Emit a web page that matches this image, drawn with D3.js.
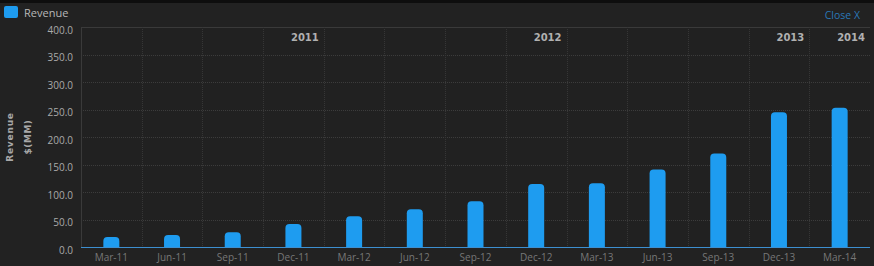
<!DOCTYPE html>
<html><head><meta charset="utf-8">
<script src="https://cdn.jsdelivr.net/npm/d3@7"></script>
<style>
html,body{margin:0;padding:0;background:#222222;}
svg{display:block;}
</style></head>
<body>
<script>
const categories = ["Mar-11","Jun-11","Sep-11","Dec-11","Mar-12","Jun-12","Sep-12","Dec-12","Mar-13","Jun-13","Sep-13","Dec-13","Mar-14"];
const revenue = [18, 22, 27, 42, 56, 68.5, 83, 114.5, 116, 141, 170, 245, 253];
const yearLabels = ["2011","2012","2013","2014"];
const yearEndCategory = ["Dec-11","Dec-12","Dec-13","Mar-14"];
const yTicks = [0,50,100,150,200,250,300,350,400];

const W = 874, H = 266;
const m = {left: 81, right: 4, top: 27, bottom: 19};
const svg = d3.select("body").append("svg").attr("width", W).attr("height", H);

svg.append("rect").attr("width", W).attr("height", H).attr("fill", "#222222");
svg.append("rect").attr("width", W).attr("height", 3).attr("fill", "#0e0e0e");

const x = d3.scaleBand().domain(categories).range([m.left, W - m.right]).padding(0);
const y = d3.scaleLinear().domain([0, 400]).range([H - m.bottom, m.top]);

// plot area
svg.append("rect").attr("x", m.left).attr("y", m.top).attr("width", W - m.right - m.left)
  .attr("height", H - m.bottom - m.top).attr("fill", "#212121");
svg.append("line").attr("x1", m.left).attr("x2", W - m.right).attr("y1", m.top + 0.5).attr("y2", m.top + 0.5)
  .attr("stroke", "#3a3a3a");

// horizontal grid
svg.append("g").selectAll("line").data(yTicks.filter(d => d > 0 && d < 400)).join("line")
  .attr("x1", m.left).attr("x2", W - m.right)
  .attr("y1", d => Math.round(y(d)) + 0.5).attr("y2", d => Math.round(y(d)) + 0.5)
  .attr("stroke", "#3c3c3c").attr("stroke-dasharray", "1,1");

// vertical grid
svg.append("g").selectAll("line").data(categories.slice(1)).join("line")
  .attr("x1", d => Math.round(x(d)) + 0.5).attr("x2", d => Math.round(x(d)) + 0.5)
  .attr("y1", m.top).attr("y2", H - m.bottom)
  .attr("stroke", "#363636").attr("stroke-dasharray", "1,1");

// left axis line
svg.append("line").attr("x1", m.left + 0.5).attr("x2", m.left + 0.5).attr("y1", m.top).attr("y2", H - m.bottom)
  .attr("stroke", "#3a3a3a");

// y axis labels
const yAxis = d3.axisLeft(y).tickValues(yTicks).tickFormat(d3.format(".1f")).tickSize(0).tickPadding(8);
const ga = svg.append("g").attr("transform", `translate(${m.left},3)`).call(yAxis);
ga.select(".domain").remove();
ga.selectAll("text").attr("fill", "#aaaaaa").style("font-family", "'Open Sans', sans-serif").style("font-size", "10px");

// bars
const bw = 16;
svg.append("g").selectAll("rect").data(categories).join("rect")
  .attr("x", (d) => x(d) + x.bandwidth() / 2 - bw / 2)
  .attr("y", (d, i) => y(revenue[i]))
  .attr("width", bw)
  .attr("height", (d, i) => y(0) - y(revenue[i]) + 4)
  .attr("rx", 4).attr("ry", 4)
  .attr("fill", "#1e9cf0");

// cover below baseline
svg.append("rect").attr("x", m.left).attr("y", H - m.bottom).attr("width", W - m.right - m.left).attr("height", 5).attr("fill", "#222222");
svg.append("line").attr("x1", m.left).attr("x2", W - m.right).attr("y1", H - m.bottom + 0.5).attr("y2", H - m.bottom + 0.5)
  .attr("stroke", "#3d8fd0");

// x axis labels
const xAxis = d3.axisBottom(x).tickSize(0).tickPadding(7);
const gx = svg.append("g").attr("transform", `translate(0,${H - m.bottom})`).call(xAxis);
gx.select(".domain").remove();
gx.selectAll("text").attr("fill", "#777777").style("font-family", "'Open Sans', sans-serif").style("font-size", "10px");

// year labels
svg.append("g").selectAll("text").data(yearLabels).join("text")
  .attr("x", (d, i) => x(yearEndCategory[i]) + x.bandwidth() - 5)
  .attr("y", 41)
  .attr("text-anchor", "end")
  .attr("fill", "#b0b0b0")
  .style("font-family", "'DejaVu Sans', sans-serif").style("font-weight", "bold").style("font-size", "10px")
  .text(d => d);

// y axis title
const yt = svg.append("text").attr("transform", `translate(0,${(m.top + H - m.bottom) / 2}) rotate(-90)`)
  .attr("text-anchor", "middle").attr("fill", "#a8a8a8")
  .style("font-family", "'DejaVu Sans', sans-serif").style("font-weight", "bold").style("font-size", "9px");
yt.append("tspan").attr("x", 0).attr("y", 13).style("letter-spacing", "0.8px").text("Revenue");
yt.append("tspan").attr("x", 0).attr("y", 31).style("letter-spacing", "0.5px").text("$(MM)");

// legend
svg.append("rect").attr("x", 4).attr("y", 6).attr("width", 14).attr("height", 12).attr("rx", 2).attr("fill", "#1e9cf0");
svg.append("text").attr("x", 24).attr("y", 17).attr("fill", "#b8b8b8")
  .style("font-family", "'Open Sans', sans-serif").style("font-size", "11px").text("Revenue");

// close
svg.append("text").attr("x", 860).attr("y", 19).attr("text-anchor", "end").attr("fill", "#2a78b8")
  .style("font-family", "'Open Sans', sans-serif").style("font-size", "10.5px").text("Close X");
</script>
</body></html>
